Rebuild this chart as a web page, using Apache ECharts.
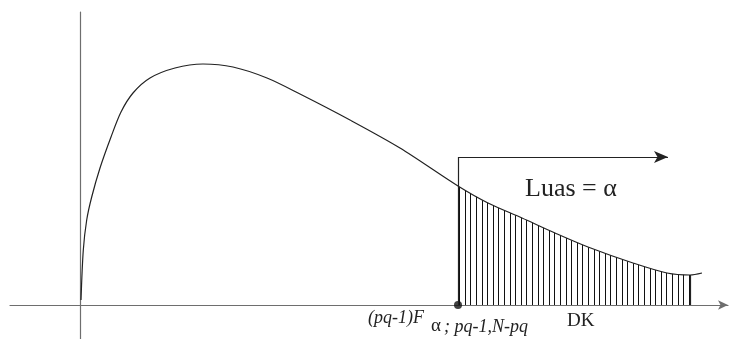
<!DOCTYPE html>
<html>
<head>
<meta charset="utf-8">
<script src="https://cdn.jsdelivr.net/npm/echarts@6/dist/echarts.min.js"></script>
<style>
  html, body { margin: 0; padding: 0; background: #fff; }
  #chart { width: 730px; height: 339px; }
</style>
</head>
<body>
<div id="chart"></div>
<script>
  // curve (x, density)
  const curveX = [0.01, 0.033, 0.067, 0.117, 0.20, 0.31, 0.41, 0.53, 0.70, 0.95, 1.23, 1.53, 1.87, 2.20, 2.70, 3.20, 3.78, 4.08, 4.42, 4.75, 5.08, 5.53, 5.87, 6.10, 6.22]
  const curveY = [0.05, 0.55, 0.85, 1.08, 1.37, 1.68, 1.93, 2.12, 2.27, 2.37, 2.41, 2.38, 2.27, 2.11, 1.85, 1.57, 1.19, 1.02, 0.87, 0.72, 0.58, 0.42, 0.32, 0.30, 0.32]
  const critX = 3.78      // (pq-1)F critical value
  const tailEnd = 6.10    // end of hatched region
  const arrowY = 1.48
  const arrowEnd = 5.88

  const curve = curveX.map((x, i) => [x, curveY[i]])
  const tail = curve.filter(p => p[0] >= critX && p[0] <= tailEnd)

  // vertical hatch pattern
  const pat = document.createElement('canvas')
  pat.width = 28
  pat.height = 4
  const ctx = pat.getContext('2d')
  ctx.fillStyle = '#111'
  ;[0, 6, 11, 17, 22].forEach(x => ctx.fillRect(x, 0, 1, 4))

  const chart = echarts.init(document.getElementById('chart'))
  chart.setOption({
    animation: false,
    backgroundColor: '#fff',
    grid: { left: 10, right: 2, top: 12, bottom: 0 },
    xAxis: {
      type: 'value',
      min: -0.70,
      max: 6.48,
      axisLine: {
        onZero: true,
        symbol: ['none', 'arrow'],
        symbolSize: [7, 10],
        lineStyle: { color: '#6e6e6e', width: 1.2 }
      },
      axisTick: { show: false },
      axisLabel: { show: false },
      splitLine: { show: false }
    },
    yAxis: {
      type: 'value',
      min: -0.34,
      max: 2.93,
      axisLine: {
        onZero: true,
        lineStyle: { color: '#6e6e6e', width: 1.2 }
      },
      axisTick: { show: false },
      axisLabel: { show: false },
      splitLine: { show: false }
    },
    series: [
      {
        type: 'line',
        data: tail,
        smooth: 0.3,
        showSymbol: false,
        lineStyle: { width: 0 },
        areaStyle: { color: { image: pat, repeat: 'repeat' }, opacity: 1 },
        markLine: {
          silent: true,
          symbol: 'none',
          label: { show: false },
          lineStyle: { color: '#222', type: 'solid', width: 1.2 },
          data: [
            [{ coord: [critX, 0] }, { coord: [critX, arrowY] }],
            [{ coord: [tailEnd, 0] }, { coord: [tailEnd, 0.30] }],
            [{ coord: [critX, arrowY] }, { coord: [arrowEnd, arrowY], symbol: 'arrow', symbolSize: [9, 14] }]
          ]
        }
      },
      {
        type: 'line',
        data: curve,
        smooth: 0.3,
        showSymbol: false,
        lineStyle: { color: '#222', width: 1.2 }
      },
      {
        type: 'scatter',
        data: [[critX, 0]],
        symbolSize: 8,
        itemStyle: { color: '#111' }
      }
    ],
    graphic: [
      { type: 'text', left: 525, top: 176, style: { text: 'Luas = α', font: '26px "Liberation Serif"', fill: '#222' } },
      { type: 'text', left: 368, top: 309, style: { text: '(pq-1)F', font: 'italic 18px "Liberation Serif"', fill: '#222' } },
      { type: 'text', left: 431, top: 317, style: { text: 'α', font: '19px "Liberation Serif"', fill: '#222' } },
      { type: 'text', left: 444, top: 318, style: { text: '; pq-1,N-pq', font: 'italic 18px "Liberation Serif"', fill: '#222' } },
      { type: 'text', left: 567, top: 312, style: { text: 'DK', font: '19px "Liberation Serif"', fill: '#222' } }
    ]
  })
</script>
</body>
</html>
